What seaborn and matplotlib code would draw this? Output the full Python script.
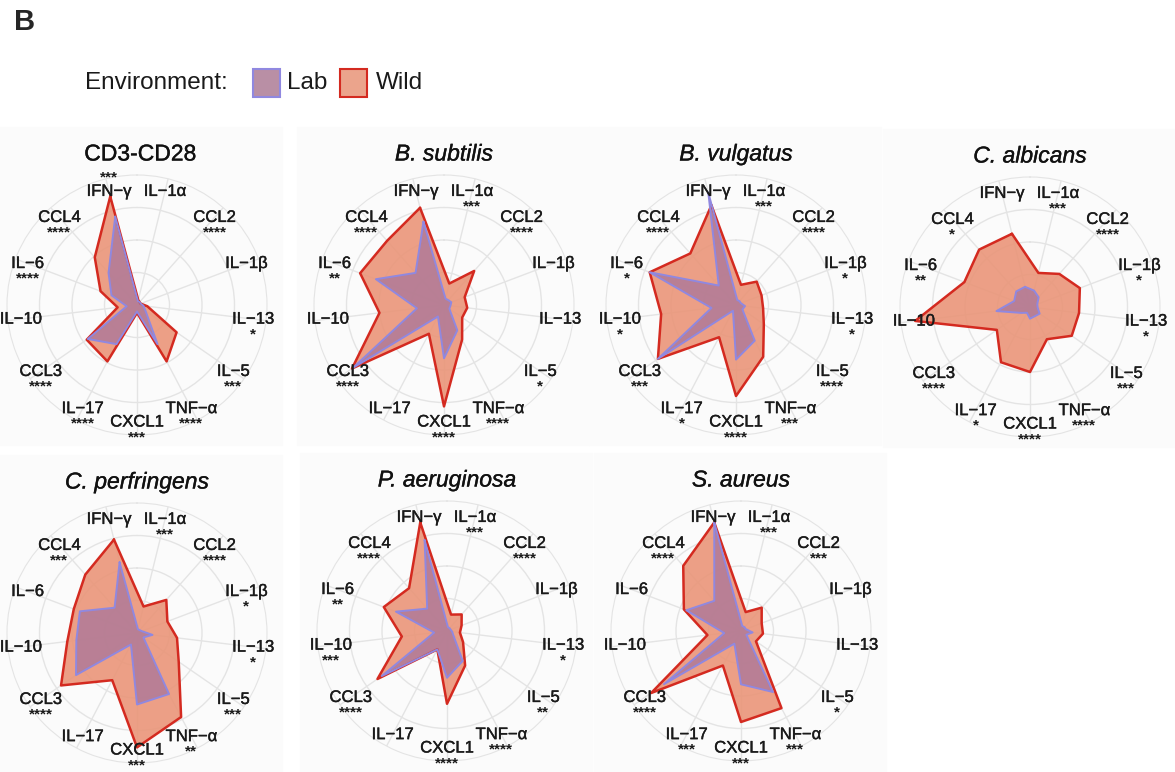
"""
Cytokine radar panels: Lab vs Wild environment
"""
import numpy as np
import pandas as pd
import matplotlib
matplotlib.use("Agg")
import matplotlib.pyplot as plt
import matplotlib.patheffects as pe
from matplotlib.patches import Rectangle
import seaborn as sns

# axes, clockwise from the top
cytokines = ['IFN−γ', 'IL−1α', 'CCL2', 'IL−1β', 'IL−13', 'IL−5', 'TNF−α',
             'CXCL1', 'IL−17', 'CCL3', 'IL−10', 'IL−6', 'CCL4']

titles = ['CD3-CD28', 'B. subtilis', 'B. vulgatus', 'C. albicans',
          'C. perfringens', 'P. aeruginosa', 'S. aureus']

# scaled responses (fraction of outer ring)
cd3_lab = [0.70, 0.03, 0.03, 0.03, 0.05, 0.08, 0.34, 0.05, 0.34, 0.46, 0.08, 0.21, 0.33]
cd3_wild = [0.86, 0.04, 0.03, 0.03, 0.08, 0.37, 0.49, 0.06, 0.49, 0.47, 0.15, 0.30, 0.49]
bsub_lab = [0.66, 0.05, 0.05, 0.06, 0.05, 0.05, 0.22, 0.41, 0.10, 0.85, 0.21, 0.56, 0.33]
bsub_wild = [0.77, 0.17, 0.35, 0.17, 0.18, 0.17, 0.30, 0.78, 0.25, 0.86, 0.50, 0.69, 0.66]
bvul_lab = [0.89, 0.04, 0.04, 0.04, 0.07, 0.06, 0.31, 0.42, 0.05, 0.73, 0.19, 0.71, 0.20]
bvul_wild = [0.79, 0.16, 0.24, 0.21, 0.21, 0.26, 0.45, 0.70, 0.28, 0.73, 0.58, 0.71, 0.53]
calb_lab = [0.16, 0.13, 0.10, 0.06, 0.06, 0.09, 0.08, 0.09, 0.05, 0.08, 0.26, 0.13, 0.16]
calb_wild = [0.58, 0.27, 0.34, 0.41, 0.38, 0.39, 0.28, 0.50, 0.48, 0.31, 0.89, 0.54, 0.59]
cper_lab = [0.56, 0.03, 0.03, 0.04, 0.12, 0.06, 0.53, 0.55, 0.10, 0.57, 0.47, 0.47, 0.26]
cper_wild = [0.74, 0.21, 0.34, 0.25, 0.31, 0.39, 0.73, 0.88, 0.41, 0.71, 0.54, 0.52, 0.60]
paer_lab = [0.72, 0.03, 0.03, 0.03, 0.04, 0.06, 0.26, 0.36, 0.16, 0.61, 0.10, 0.42, 0.23]
paer_wild = [0.86, 0.13, 0.17, 0.12, 0.10, 0.15, 0.30, 0.56, 0.16, 0.65, 0.35, 0.52, 0.44]
saur_lab = [0.86, 0.04, 0.04, 0.04, 0.09, 0.05, 0.53, 0.41, 0.11, 0.72, 0.13, 0.45, 0.31]
saur_wild = [0.86, 0.15, 0.24, 0.17, 0.17, 0.14, 0.67, 0.70, 0.30, 0.84, 0.26, 0.47, 0.67]

# significance per cytokine
cd3_stars = ['***', '', '****', '', '*', '***', '****', '***', '****', '****', '', '****', '****']
bsub_stars = ['', '***', '****', '', '', '*', '****', '****', '', '****', '', '**', '****']
bvul_stars = ['', '***', '****', '*', '*', '****', '***', '****', '*', '***', '*', '*', '****']
calb_stars = ['', '***', '****', '*', '*', '***', '****', '****', '*', '****', '', '**', '*']
cper_stars = ['', '***', '****', '*', '*', '***', '**', '***', '', '****', '', '', '***']
paer_stars = ['', '***', '****', '', '*', '**', '****', '****', '', '****', '***', '**', '****']
saur_stars = ['', '***', '***', '', '', '*', '***', '***', '***', '****', '', '', '****']

LAB_FILL, LAB_EDGE = '#B07A98', '#9088E0'
WILD_FILL, WILD_EDGE = '#EA9376', '#D42A20'
GRID = '#E4E4E4'
INK = '#1a1a1a'

W, H = 1175, 772
R = 130  # outer ring radius in px
centers = [(137, 305), (444, 305), (736, 305), (1030, 307),
           (137, 633), (447, 631), (741, 631)]

sns.set_style('white')
plt.rcParams['font.family'] = ['Liberation Sans', 'DejaVu Sans']

angles = (np.arange(len(cytokines)) - 0.5) * 2 * np.pi / len(cytokines)
bold_fx = [pe.withStroke(linewidth=0.3, foreground=INK)]


def radar(ax, lab, wild, stars):
    theta = np.append(angles, angles[0] + 2 * np.pi)
    df = pd.DataFrame({'theta': np.concatenate([theta, theta]),
                       'r': np.concatenate([np.append(wild, wild[0]), np.append(lab, lab[0])]),
                       'env': ['Wild'] * len(theta) + ['Lab'] * len(theta)})
    w = df[df.env == 'Wild']
    l = df[df.env == 'Lab']
    ax.fill(w.theta, w.r, color=WILD_FILL, alpha=0.88, lw=0, zorder=2)
    ax.fill(l.theta, l.r, color=LAB_FILL, alpha=0.85, lw=0, zorder=2)
    sns.lineplot(data=w, x='theta', y='r', sort=False, estimator=None, ax=ax,
                 color=WILD_EDGE, lw=1.8, zorder=3)
    sns.lineplot(data=l, x='theta', y='r', sort=False, estimator=None, ax=ax,
                 color=LAB_EDGE, lw=1.4, zorder=4)

    ax.set_theta_zero_location('N')
    ax.set_theta_direction(-1)
    ax.set_xlim(0, 2 * np.pi)
    ax.set_ylim(0, 1)
    ax.set_xticks(angles % (2 * np.pi))
    ax.set_xticklabels([])
    ax.set_yticks([0.25, 0.5, 0.75])
    ax.set_yticklabels([])
    ax.set_xlabel('')
    ax.set_ylabel('')
    ax.tick_params(length=0)
    ax.grid(True, color=GRID, lw=1)
    ax.spines['polar'].set_color(GRID)
    ax.set_facecolor('none')

    for i, (name, st) in enumerate(zip(cytokines, stars)):
        ax.text(angles[i], 0.9, name, ha='center', va='center', fontsize=12,
                color=INK, zorder=5, path_effects=bold_fx)
        if st:
            dy = 10 if i == 0 else -11
            ax.annotate(st, xy=(angles[i], 0.9), xytext=(0, dy), textcoords='offset points',
                        ha='center', va='center', fontsize=11, fontweight='bold',
                        color=INK, zorder=5)


fig = plt.figure(figsize=(W / 100, H / 100), dpi=100)

panels = [(cd3_lab, cd3_wild, cd3_stars), (bsub_lab, bsub_wild, bsub_stars),
          (bvul_lab, bvul_wild, bvul_stars), (calb_lab, calb_wild, calb_stars),
          (cper_lab, cper_wild, cper_stars), (paer_lab, paer_wild, paer_stars),
          (saur_lab, saur_wild, saur_stars)]

for (cx, cy), title, (lab, wild, stars) in zip(centers, titles, panels):
    # faint panel background
    fig.patches.append(Rectangle(((cx - 147) / W, 1 - (cy + 140) / H), 292 / W, 318 / H,
                                 transform=fig.transFigure, color='#FBFBFB', zorder=-5))
    ax = fig.add_axes([(cx - R) / W, 1 - (cy + R) / H, 2 * R / W, 2 * R / H],
                      projection='polar')
    radar(ax, lab, wild, stars)
    fig.text((cx + (3 if title == 'CD3-CD28' else 0)) / W, 1 - (cy - 151) / H, title,
             ha='center', va='center', fontsize=16.5,
             style='normal' if title == 'CD3-CD28' else 'italic', color='#111111',
             path_effects=[pe.withStroke(linewidth=0.25, foreground='#111111')])

# panel letter and legend
fig.text(14 / W, 1 - 22 / H, 'B', fontsize=21, fontweight='bold', va='center')
fig.text(85 / W, 1 - 83 / H, 'Environment:', fontsize=17.5, va='center', color=INK)
fig.patches.append(Rectangle((253 / W, 1 - 97 / H), 27 / W, 28 / H, transform=fig.transFigure,
                             facecolor='#B98FA5', edgecolor=LAB_EDGE, lw=1.5))
fig.text(287 / W, 1 - 83 / H, 'Lab', fontsize=17.5, va='center', color=INK)
fig.patches.append(Rectangle((340 / W, 1 - 97 / H), 27 / W, 28 / H, transform=fig.transFigure,
                             facecolor='#EBA48C', edgecolor=WILD_EDGE, lw=1.5))
fig.text(376 / W, 1 - 83 / H, 'Wild', fontsize=17.5, va='center', color=INK)

fig.savefig('out.png', dpi=100)
